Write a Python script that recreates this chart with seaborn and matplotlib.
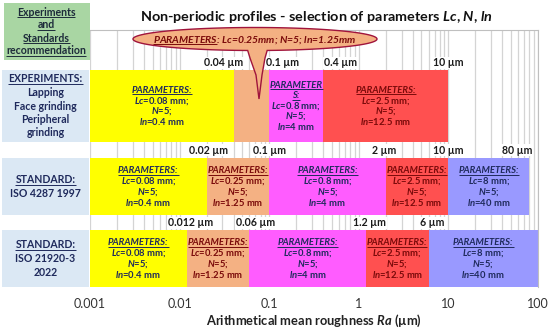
import numpy as np
import seaborn as sns
import matplotlib.pyplot as plt
from matplotlib.patches import Rectangle, Polygon
from matplotlib.ticker import FixedLocator, FuncFormatter, LogLocator, NullFormatter

OUT_FILE = "out.png"

# Ra limits (um) where each parameter set starts / ends, per row
EXP_EDGES = [0.001, 0.04, 0.1, 0.4, 10]
ISO4287_EDGES = [0.001, 0.02, 0.1, 2, 10, 80]
ISO21920_EDGES = [0.001, 0.012, 0.06, 1.2, 6, 100]
ROW_EDGES = [EXP_EDGES, ISO4287_EDGES, ISO21920_EDGES]
# limit labels shown above each row (the last edge of ISO 21920 is the axis end)
ROW_LIMIT_LABELS = [[0.04, 0.1, 0.4, 10], [0.02, 0.1, 2, 10, 80], [0.012, 0.06, 1.2, 6]]

LC_MM = [0.08, 0.25, 0.8, 2.5, 8]
LN_MM = [0.4, 1.25, 4, 12.5, 40]
N_CUT = 5
BUBBLE_SET = 1  # the experiments' orange set is written in the bubble

X_TICKS = [0.001, 0.01, 0.1, 1, 10, 100]

ROW_LABELS = [
    ["EXPERIMENTS:", "Lapping", "Face grinding", "Peripheral", "grinding"],
    ["STANDARD:", "ISO 4287 1997"],
    ["STANDARD:", "ISO 21920-3", "2022"],
]
CORNER_LABEL = ["Experiments", "and", "Standards", "recommendation"]
TITLE = "Non-periodic profiles - selection of parameters $Lc$, $N$, $ln$"
XLABEL = "Arithmetical mean roughness $Ra$ (\u00b5m)"

SEG_COLORS = ["#ffff00", "#f4b183", "#ff5cff", "#ff5050", "#9999ff"]
NAVY = "#1f2a5c"
DARKRED = "#7a0a0a"
TEXT_COLORS = [NAVY, DARKRED, NAVY, DARKRED, NAVY]

# layout, in pixels of the 550x331 picture
W, H = 550, 331
AX_L, AX_R, AX_T, AX_B = 90, 538, 30, 287
ROW_SPANS = [(70, 142), (158, 215), (230, 287)]
BAND_Y = [63, 150, 223]
LABEL_NUDGE = [[-10, 13, 17, 0], [2, 0, -2, 0, -12], [4, 6, 4, 4]]

sns.set_theme(style="white")
plt.rcParams["font.family"] = ["Lato", "DejaVu Sans"]
plt.rcParams["mathtext.fontset"] = "custom"
plt.rcParams["mathtext.it"] = "Lato:italic:bold"
plt.rcParams["mathtext.rm"] = "Lato:bold"
plt.rcParams["mathtext.bf"] = "Lato:bold"

underlined = []


def put_lines(ax, x, yc, lines, size, color, step, **kw):
    n = len(lines)
    y0 = yc - step * (n - 1) / 2
    for i, (txt, ul, style) in enumerate(lines):
        t = ax.text(x, y0 + i * step, txt, ha="center", va="center", fontsize=size,
                    color=color, fontweight="bold", fontstyle=style, **kw)
        if ul:
            underlined.append(t)


fig = plt.figure(figsize=(W / 100, H / 100), dpi=100)
ax = fig.add_axes([AX_L / W, 1 - AX_B / H, (AX_R - AX_L) / W, (AX_B - AX_T) / H])
ax.set_xscale("log")
ax.set_xlim(X_TICKS[0], X_TICKS[-1])
ax.set_ylim(AX_B, AX_T)
ax.xaxis.set_major_locator(FixedLocator(X_TICKS))
ax.xaxis.set_major_formatter(FuncFormatter(lambda v, p: "%g" % v))
ax.xaxis.set_minor_locator(LogLocator(subs=np.arange(2, 10)))
ax.xaxis.set_minor_formatter(NullFormatter())
ax.set_yticks([])
ax.grid(which="both", axis="x", color="#d4d4d4", lw=0.9, zorder=0)
ax.set_axisbelow(True)
ax.tick_params(axis="x", which="both", length=0, pad=8, labelsize=9, labelcolor="#333333")
for side in ["left", "bottom"]:
    ax.spines[side].set_visible(False)
for side in ["top", "right"]:
    ax.spines[side].set_color("#bfbfbf")
    ax.spines[side].set_linewidth(0.8)
ax.set_xlabel(XLABEL, fontsize=9.3, fontweight="bold", color="#222222", labelpad=2)

for r, edges in enumerate(ROW_EDGES):
    top, bot = ROW_SPANS[r]
    yc = (top + bot) / 2
    lefts = np.array(edges[:-1])
    widths = np.array(edges[1:]) - lefts
    ax.barh([yc] * len(lefts), widths, left=lefts, height=bot - top,
            color=SEG_COLORS[:len(lefts)], edgecolor="none", zorder=2)
    for k, (a, b) in enumerate(zip(edges[:-1], edges[1:])):
        if r == 0 and k == BUBBLE_SET:
            continue
        xm = np.sqrt(a * b)
        head = [("PARAMETERS:", True, "italic")]
        if r == 0 and k == 2:
            head = [("PARAMETER", True, "italic"), ("S:", True, "italic")]
        body = [("$Lc$=%g mm;" % LC_MM[k], False, "normal"),
                ("$N$=%d;" % N_CUT, False, "normal"),
                ("$ln$=%g mm" % LN_MM[k], False, "normal")]
        put_lines(ax, xm, yc, head + body, 6.8, TEXT_COLORS[k], 10.5, zorder=4)
    for v, dx in zip(ROW_LIMIT_LABELS[r], LABEL_NUDGE[r]):
        ax.annotate("%g \u00b5m" % v, (v, BAND_Y[r]), xytext=(dx * 0.72, 0),
                    textcoords="offset points", ha="center", va="center",
                    fontsize=7.6, fontweight="bold", color="#1a1a1a", zorder=3,
                    bbox=dict(fc="white", ec="none", pad=0.6))

# overlay in pixel coordinates for the side boxes, title and the bubble
ov = fig.add_axes([0, 0, 1, 1], zorder=5)
ov.set_xlim(0, W)
ov.set_ylim(H, 0)
ov.axis("off")
ov.patch.set_alpha(0)

ov.add_patch(Rectangle((4, 3), 86, 57, fc="#a9d6a3", ec="none"))
put_lines(ov, 46, 31.5, [(s, True, "normal") for s in CORNER_LABEL], 7.6, "#1d2b3a", 13)

for r, lines in enumerate(ROW_LABELS):
    top, bot = ROW_SPANS[r]
    ov.add_patch(Rectangle((2, top), 87, bot - top, fc="#dbe8f4", ec="none"))
    items = [(s, i == 0, "normal") for i, s in enumerate(lines)]
    put_lines(ov, 45.5, (top + bot) / 2, items, 7.6, NAVY, 13.5)

ov.text(316, 17, TITLE, ha="center", va="center", fontsize=10.4, fontweight="bold", color="#111111")

# speech bubble: ellipse with a tail pointing into the experiments' orange block
cx, cy, a, b = 255, 39, 122, 11.5
tail_l, tail_r = np.pi / 2 + 0.06, np.pi / 2 - 0.10
pts = [(cx + a * np.cos(t), cy + b * np.sin(t))
       for t in np.linspace(tail_l, tail_r + 2 * np.pi, 360)]
pts += [(265, 58), (262, 75), (259, 99), (256, 75), (250, 58)]
ov.add_patch(Polygon(pts, closed=True, fc="#f4b183", ec="#a0143c", lw=1.0))
ov.text(153, 40, "PARAMETERS: $Lc$=%gmm; $N$=%d; $ln$=%gmm" % (LC_MM[1], N_CUT, LN_MM[1]),
        ha="left", va="center", fontsize=7.5, fontweight="bold", fontstyle="italic", color=DARKRED)
hidden = ov.text(153, 40, "PARAMETERS", ha="left", va="center", fontsize=7.5,
                 fontweight="bold", fontstyle="italic", alpha=0)
underlined.append(hidden)

fig.canvas.draw()
inv = ov.transData.inverted()
for t in underlined:
    bb = t.get_window_extent()
    (x0, y0), (x1, y1) = inv.transform([[bb.x0, bb.y0], [bb.x1, bb.y1]])
    col = t.get_color() if t.get_alpha() is None else DARKRED
    ov.plot([x0, x1], [y0 - 0.5, y0 - 0.5], color=col, lw=0.7, solid_capstyle="butt")

fig.savefig(OUT_FILE, dpi=100)
